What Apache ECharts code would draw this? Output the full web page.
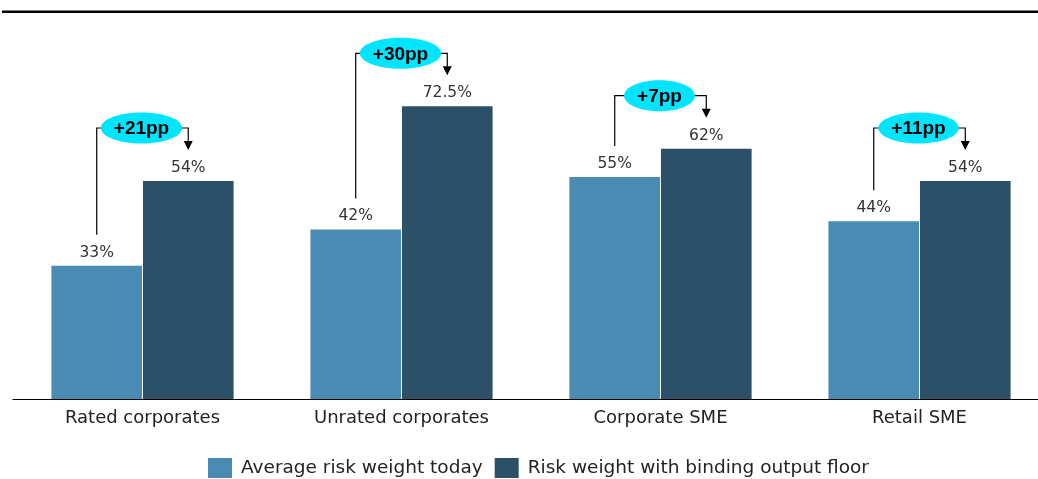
<!DOCTYPE html>
<html>
<head>
<meta charset="utf-8">
<script src="https://cdn.jsdelivr.net/npm/echarts@6/dist/echarts.min.js"></script>
<style>
html,body{margin:0;padding:0;background:#fff;}
#chart{width:1038px;height:479px;}
</style>
</head>
<body>
<div id="chart"></div>
<script>
var categories = ['Rated corporates', 'Unrated corporates', 'Corporate SME', 'Retail SME'];
var todayValues = [33, 42, 55, 44];
var floorValues = [54, 72.5, 62, 54];
var deltaLabels = ['+21pp', '+30pp', '+7pp', '+11pp'];
var seriesNames = ['Average risk weight today', 'Risk weight with binding output floor'];

var FONT = '"DejaVu Sans", sans-serif';
var BADGE_FONT = 'bold 19px "Liberation Sans", Arial, sans-serif';
var measureCtx = document.createElement('canvas').getContext('2d');
measureCtx.font = BADGE_FONT;

var BAR_W = 0.35, GAP = 0.01;

var chart = echarts.init(document.getElementById('chart'), null, {renderer: 'canvas'});

var annotData = categories.map(function (c, i) { return [i, todayValues[i], floorValues[i]]; });

chart.setOption({
  animation: false,
  grid: {left: 13, width: 1036, top: 76, height: 323, containLabel: false, outerBoundsMode: 'none'},
  xAxis: {
    type: 'category',
    data: categories,
    axisLine: {show: true, lineStyle: {color: '#000', width: 1.2}},
    axisTick: {show: false},
    axisLabel: {color: '#222', fontSize: 18, fontFamily: FONT, margin: 10}
  },
  yAxis: {type: 'value', min: 0, max: 80, show: false, splitLine: {show: false}},
  legend: {
    left: 203, top: 453,
    itemWidth: 24, itemHeight: 20, itemGap: 12,
    textStyle: {color: '#222', fontSize: 18.5, fontFamily: FONT, padding: [0, 0, 0, 4]},
    data: seriesNames,
    icon: 'rect'
  },
  graphic: [{
    type: 'rect', shape: {x: 2, y: 10.5, width: 1040, height: 2.5},
    style: {fill: '#000'}, silent: true
  }],
  series: [
    {
      name: seriesNames[0], type: 'bar', data: todayValues,
      barWidth: (BAR_W * 100) + '%', barGap: (GAP * 100) + '%',
      itemStyle: {color: '#4a8bb3'},
      label: {show: true, position: 'top', distance: 5, color: '#333', fontSize: 15.5, fontFamily: FONT,
        formatter: function (p) { return p.value + '%'; }}
    },
    {
      name: seriesNames[1], type: 'bar', data: floorValues,
      barWidth: (BAR_W * 100) + '%', barGap: (GAP * 100) + '%',
      itemStyle: {color: '#2c5067'},
      label: {show: true, position: 'top', distance: 5, color: '#333', fontSize: 15.5, fontFamily: FONT,
        formatter: function (p) { return p.value + '%'; }}
    },
    {
      type: 'custom', coordinateSystem: 'cartesian2d', clip: false, silent: true, z: 10,
      encode: {x: 0, y: 2},
      data: annotData,
      renderItem: function (params, api) {
        var i = api.value(0);
        var c = api.coord([i, 0]);
        var band = api.size([1, 0])[0];
        var bw = band * BAR_W, gap = bw * GAP;
        var xL = c[0] - gap / 2 - bw / 2;
        var xR = c[0] + gap / 2 + bw / 2;
        var yT = api.coord([i, api.value(1)])[1];
        var yF = api.coord([i, api.value(2)])[1];
        var yE = yF - 53;
        var txt = deltaLabels[i];
        var tw = measureCtx.measureText(txt).width;
        var rx = tw / 2 + 13, ry = 15.5;
        var cx = c[0] - 1;
        var ls = {stroke: '#000', lineWidth: 1.2, fill: null};
        return {
          type: 'group',
          children: [
            {type: 'polyline', shape: {points: [[xL, yT - 31], [xL, yE], [cx - rx + 2, yE]]}, style: ls},
            {type: 'polyline', shape: {points: [[cx + rx - 2, yE], [xR, yE], [xR, yF - 39]]}, style: ls},
            {type: 'polygon', shape: {points: [[xR - 4.5, yF - 40], [xR + 4.5, yF - 40], [xR, yF - 31]]}, style: {fill: '#000'}},
            {type: 'ellipse', shape: {cx: cx, cy: yE, rx: rx, ry: ry}, style: {fill: '#00e5ff'}},
            {type: 'text', style: {text: txt, x: cx, y: yE + 1, align: 'center', verticalAlign: 'middle',
              font: BADGE_FONT, fill: '#000'}}
          ]
        };
      }
    }
  ]
});
</script>
</body>
</html>
